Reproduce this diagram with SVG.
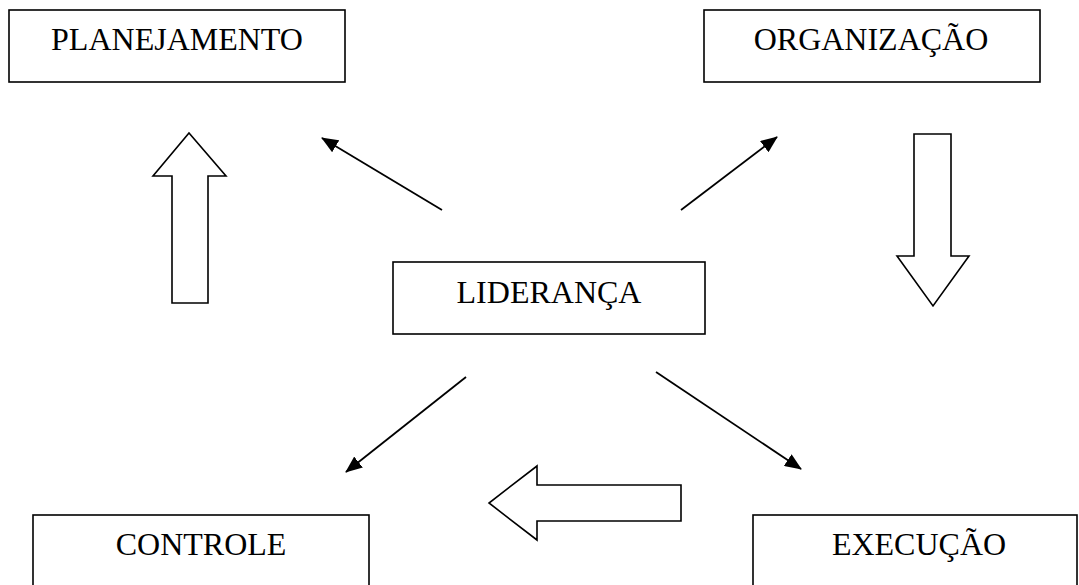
<svg xmlns="http://www.w3.org/2000/svg" width="1079" height="585" viewBox="0 0 1079 585">
<defs>
<style>
.box{fill:#fff;stroke:#000;stroke-width:1.6}
.lbl{font-family:"Liberation Serif","Times New Roman",serif;font-size:32px;fill:#000;text-anchor:middle}
.big{fill:#fff;stroke:#000;stroke-width:1.6;stroke-linejoin:miter}
.con{stroke:#000;stroke-width:1.8;fill:none}
</style>
<marker id="ah" markerWidth="17" markerHeight="14" refX="16" refY="7" orient="auto" markerUnits="userSpaceOnUse">
<path d="M0,0 L17,7 L0,14 Z" fill="#000"/>
</marker>
</defs>
<rect width="1079" height="585" fill="#fff"/>
<g id="planejamento"><rect class="box" x="9" y="10" width="336" height="72"/><text class="lbl" x="177" y="50">PLANEJAMENTO</text></g>
<g id="organizacao"><rect class="box" x="704" y="10" width="336" height="72"/><text class="lbl" x="871" y="50">ORGANIZAÇÃO</text></g>
<g id="lideranca"><rect class="box" x="393" y="262" width="312" height="72"/><text class="lbl" x="549" y="303">LIDERANÇA</text></g>
<g id="controle"><rect class="box" x="33" y="515" width="336" height="80"/><text class="lbl" x="201" y="555">CONTROLE</text></g>
<g id="execucao"><rect class="box" x="753" y="515" width="324" height="80"/><text class="lbl" x="919" y="555">EXECUÇÃO</text></g>
<g id="block-arrows">
<polygon class="big" points="172,303 208,303 208,176 226,176 189,133 153,176 172,176"/>
<polygon class="big" points="914,134 951,134 951,256 969,256 933,306 897,256 914,256"/>
<polygon class="big" points="681,485 681,521 537,521 537,540 489,503 537,466 537,485"/>
</g>
<g id="connectors">
<line class="con" x1="442" y1="210" x2="322" y2="138" marker-end="url(#ah)"/>
<line class="con" x1="681" y1="210" x2="777" y2="137" marker-end="url(#ah)"/>
<line class="con" x1="466" y1="377" x2="346" y2="472" marker-end="url(#ah)"/>
<line class="con" x1="656" y1="372" x2="801" y2="469" marker-end="url(#ah)"/>
</g>
</svg>
